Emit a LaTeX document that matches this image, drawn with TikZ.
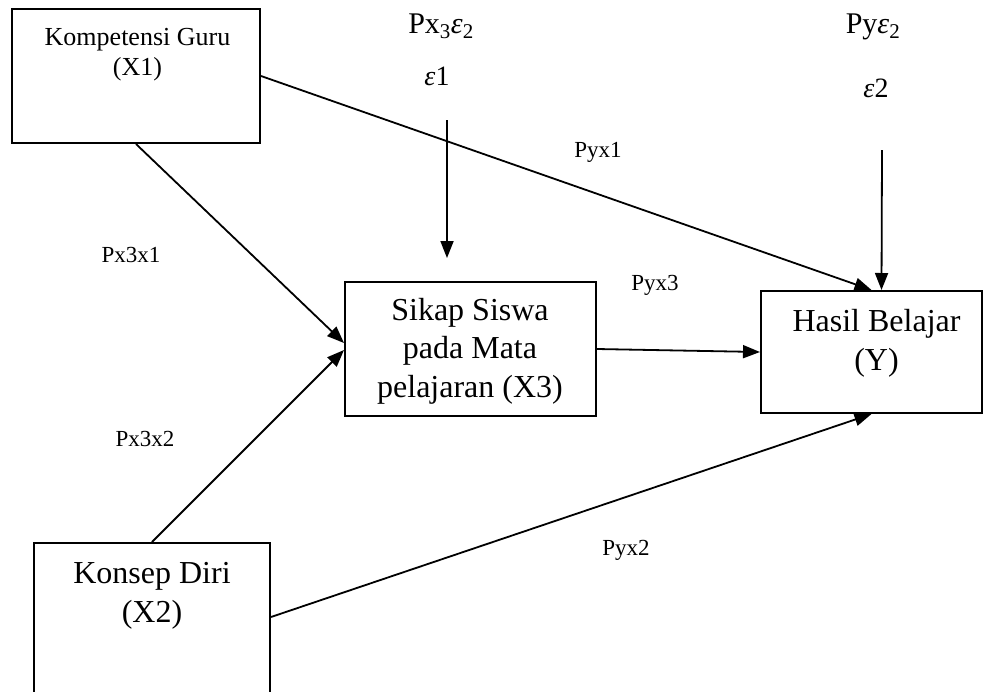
\documentclass[tikz,border=0pt]{standalone}
\usepackage{fontspec}
\setmainfont{Liberation Serif}
\usetikzlibrary{arrows.meta,calc}

\tikzset{
  box/.style={draw, line width=2pt, rectangle, inner sep=0pt},
  txt/.style={inner sep=0pt, anchor=base, align=center},
  bigtxt/.style={txt, font=\fontsize{32}{38.5}\selectfont},
  smalltxt/.style={txt, font=\fontsize{26}{30}\selectfont},
  coef/.style={txt, font=\fontsize{23}{27}\selectfont},
  errtxt/.style={txt, font=\fontsize{30}{34}\selectfont},
  link/.style={line width=1.8pt, -{Triangle[length=17pt,width=13pt]}},
}
\newcommand{\eps}{\textit{ε}}

\begin{document}
\begin{tikzpicture}[x=1pt,y=-1pt]
\useasboundingbox (0,0) rectangle (984,691);

% boxes
\node[box, minimum width=248pt, minimum height=134pt] (x1) at (136,76) {};
\node[box, minimum width=236pt, minimum height=160pt] (x2) at (152,623) {};
\node[box, minimum width=251pt, minimum height=134pt] (x3) at (470.5,349) {};
\node[box, minimum width=221pt, minimum height=122pt] (hb) at (871.5,352) {};

% box texts (anchored at the baseline of their last line)
\node[smalltxt] (x1t) at (137.5,75) {Kompetensi Guru\\(X1)};
\node[bigtxt] (x2t) at (152,622) {Konsep Diri\\(X2)};
\node[bigtxt] (x3t) at (470,397) {Sikap Siswa\\pada Mata\\pelajaran (X3)};
\node[bigtxt] (hbt) at (876.5,370) {Hasil Belajar\\(Y)};

% error terms
\node[errtxt] (pe1) at (441,33) {Px\textsubscript{3}\eps\textsubscript{2}};
\node[errtxt, font=\fontsize{28}{32}\selectfont] (e1) at (437,85) {\eps1};
\node[errtxt] (pe2) at (873,33) {Py\eps\textsubscript{2}};
\node[errtxt, font=\fontsize{28}{32}\selectfont] (e2) at (876,97) {\eps2};

% path coefficients
\node[coef] (c1) at (598,157) {Pyx1};
\node[coef] (c2) at (131,262) {Px3x1};
\node[coef] (c3) at (655,290) {Pyx3};
\node[coef] (c4) at (145,446) {Px3x2};
\node[coef] (c5) at (626,555) {Pyx2};

% free ends of the error arrows
\coordinate (e1s) at (447,120);
\coordinate (e1e) at (447,258);
\coordinate (e2s) at (882,150);

% connectors
\draw[link] (x1.east) -- (hb.north);
\draw[link] (e2s) -- ([xshift=10pt]hb.north);
\draw[link] (e1s) -- (e1e);
\draw[link] (x1.south) -- ([yshift=6pt]x3.west);
\draw[link] (x2.north) -- ([yshift=-1pt]x3.west);
\draw[link] (x3.east) -- (hb.west);
\draw[link] ([yshift=6pt]x2.east) -- (hb.south);
\end{tikzpicture}
\end{document}
